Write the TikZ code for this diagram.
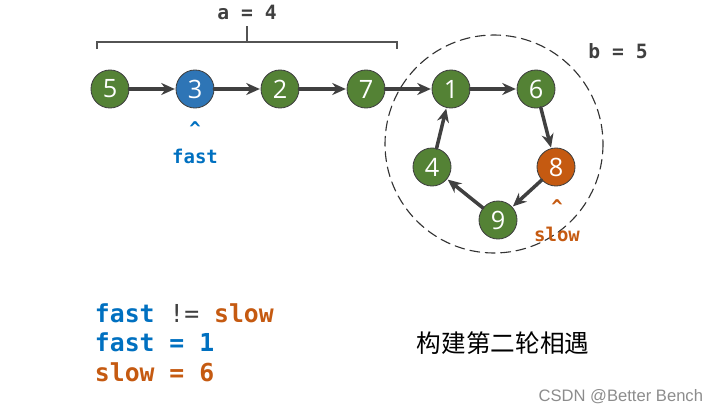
\documentclass[tikz,border=0pt]{standalone}
\usepackage{fontspec}
\setmainfont{Open Sans}
\setmonofont{DejaVu Sans Mono}
\newfontfamily\cjk{Noto Sans CJK SC}
\newfontfamily\wmfont{Liberation Sans}
\usepackage{tikz}
\usetikzlibrary{arrows.meta}
\usepackage{xcolor}
\definecolor{nodegreen}{RGB}{84,130,53}
\definecolor{nodeblue}{RGB}{46,117,182}
\definecolor{nodeorange}{RGB}{197,90,17}
\definecolor{edgegray}{RGB}{64,64,64}
\definecolor{codeblue}{RGB}{0,112,192}

\begin{document}
\begin{tikzpicture}[x=0.025cm,y=-0.025cm,>={Stealth[length=3.4mm,width=3mm]},line cap=round,
  listnode/.style={circle,draw=edgegray,line width=0.6pt,fill=nodegreen,minimum size=0.95cm,inner sep=0pt,
    text=white,font=\fontsize{18}{18}\selectfont},
  link/.style={->,edgegray,line width=2.5pt,shorten >=0.5pt},
  lenlabel/.style={text=edgegray,font=\fontsize{14}{14}\selectfont\ttfamily\bfseries},
  ptrlabel/.style={font=\fontsize{13.5}{13.5}\selectfont\ttfamily\bfseries},
  codeline/.style={anchor=west,font=\fontsize{17.6}{17.6}\selectfont\ttfamily\bfseries}]
\useasboundingbox (0,0) rectangle (720,414);
% list before the loop
\node[listnode] (n5) at (110,89) {5};
\node[listnode,fill=nodeblue] (n3) at (195,89) {3};
\node[listnode] (n2) at (280,89) {2};
\node[listnode] (n7) at (366,89) {7};
% the loop
\node[listnode] (n1) at (451,89) {1};
\node[listnode] (n6) at (536,89) {6};
\node[listnode,fill=nodeorange] (n8) at (556,167) {8};
\node[listnode] (n9) at (498,220) {9};
\node[listnode] (n4) at (432,167) {4};
\draw[link] (n5) -- (n3);
\draw[link] (n3) -- (n2);
\draw[link] (n2) -- (n7);
\draw[link] (n7) -- (n1);
\draw[link] (n1) -- (n6);
\draw[link] (n6) -- (n8);
\draw[link] (n8) -- (n9);
\draw[link] (n9) -- (n4);
\draw[link] (n4) -- (n1);
\draw[dashed,dash pattern=on 7pt off 4pt,line width=0.8pt,black!80] (494,144) circle (109);
% lengths
\draw[edgegray!90,line width=1.6pt,line cap=butt] (97,49) -- (97,42) -- (397,42) -- (397,49);
\draw[edgegray!90,line width=1.6pt,line cap=butt] (247,42) -- (247,26);
\node[lenlabel] (alen) at (247,12) {a = 4};
\node[lenlabel] (blen) at (618,51) {b = 5};
% pointers
\node[ptrlabel,text=codeblue] (fhat) at (195,129) {\^{}};
\node[ptrlabel,text=codeblue] (fast) at (195,156) {fast};
\node[ptrlabel,text=nodeorange] (shat) at (557,207) {\^{}};
\node[ptrlabel,text=nodeorange] (slow) at (557,234) {slow};
% state
\node[codeline] (c1) at (90,313) {\textcolor{codeblue}{fast} \textcolor{edgegray}{\mdseries !=} \textcolor{nodeorange}{slow}};
\node[codeline,text=codeblue] (c2) at (90,342) {fast = 1};
\node[codeline,text=nodeorange] (c3) at (90,372) {slow = 6};
\node[anchor=west,font=\fontsize{17.5}{17.5}\selectfont\cjk] (title) at (412,343) {构建第二轮相遇};
\node[anchor=east,text=black!45,font=\fontsize{11.8}{11.8}\selectfont\wmfont] (wm) at (708,397) {CSDN @Better Bench};
\end{tikzpicture}
\end{document}
